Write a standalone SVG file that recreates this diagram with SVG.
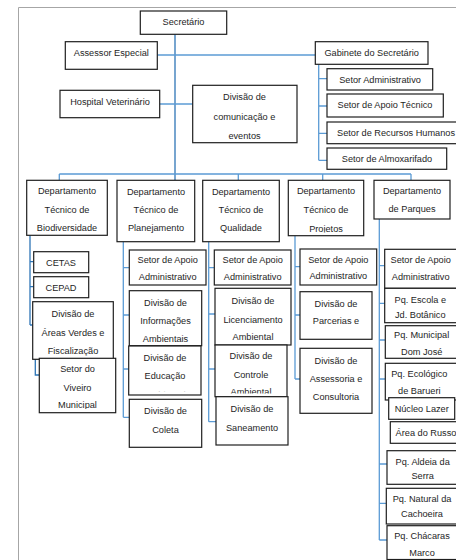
<svg xmlns="http://www.w3.org/2000/svg" width="456" height="560" viewBox="0 0 456 560">
<style>
.frame{stroke:#a6a6a6;stroke-width:1;fill:none}
.box{fill:#fff;stroke:#1e1e1e;stroke-width:1.2}
.c{fill:none;stroke:#5b9bd5;stroke-width:1.3}
.cd{fill:none;stroke:#2e75b6;stroke-width:1.3}
text{font-family:"Liberation Sans",Arial,sans-serif;font-size:9.2px;fill:#1e1e1e;text-anchor:middle}
</style>
<defs>
<clipPath id="clipProj"><rect x="288" y="180" width="76" height="52.6"/></clipPath>
<clipPath id="clipAV"><rect x="32" y="301" width="82" height="54.6"/></clipPath>
<clipPath id="clipViv"><rect x="39" y="358" width="77" height="51"/></clipPath>
<clipPath id="clipEdu"><rect x="128" y="346" width="73" height="45.2"/></clipPath>
<clipPath id="clipCtl"><rect x="215" y="345" width="72" height="48.6"/></clipPath>
</defs>
<rect width="456" height="560" fill="#fff"/>
<path class="frame" d="M18.5,7.5H456M18.5,7.5V560"/>
<g id="connectors">
<path class="cd" d="M175,34.3V180.3"/>
<path class="c" d="M157.3,55H315.3"/>
<path class="c" d="M159.7,104H192.7"/>
<path class="c" d="M59.3,174H411M59.3,174V180.3M238.3,174V180.3M322.7,174V180.3M411,174V180.3"/>
<path class="c" d="M318.7,64.3V160.3M318.7,78.7H327M318.7,106H327M318.7,133.3H327M318.7,160.3H327"/>
<path class="cd" d="M30,235.3V325M30,261.7H33.7M30,286.7H33.7M30,325H32.7"/>
<path class="cd" d="M35.3,357V375H39.3"/>
<path class="c" d="M123.3,241.7V417.3M123.3,267.7H129.3M123.3,315H129.3M123.3,369H128.7M123.3,417.3H129.3"/>
<path class="c" d="M208.7,241.7V421.7M208.7,267.7H214.3M208.7,314H215M208.7,369H215M208.7,421.7H216"/>
<path class="c" d="M295,235.7V379M295,266.7H300M295,315H300M295,379H300"/>
<path class="c" d="M379.3,219V540M379.3,265.7H384.7M379.3,303.3H384.7M379.3,340H385.3M379.3,379H385.3M379.3,464H387M379.3,503.3H386.3M379.3,540H387"/>
</g>
<g id="secretario"><rect class="box" x="140.3" y="11" width="86.4" height="23.3"/><text x="183.5" y="25.3">Secretário</text></g>
<g id="assessor"><rect class="box" x="65.3" y="41.7" width="92" height="27.6"/><text x="111.3" y="56">Assessor Especial</text></g>
<g id="hospital"><rect class="box" x="60" y="90.3" width="99.7" height="27.4"/><text x="110" y="105">Hospital Veterinário</text></g>
<g id="comunicacao"><rect class="box" x="192.7" y="85.3" width="104.3" height="57.4"/><text x="244.5" y="100">Divisão de</text><text x="244.5" y="120">comunicação e</text><text x="244.5" y="138.6">eventos</text></g>
<g id="gabinete"><rect class="box" x="315.3" y="41.7" width="112.7" height="22.6"/><text x="371.7" y="56">Gabinete do Secretário</text></g>
<g id="setor-adm"><rect class="box" x="327" y="68.7" width="105.7" height="21.3"/><text x="380" y="83.3">Setor Administrativo</text></g>
<g id="setor-apoio-tec"><rect class="box" x="327" y="94" width="116.3" height="23"/><text x="385" y="108.3">Setor de Apoio Técnico</text></g>
<g id="setor-rh"><rect class="box" x="327" y="122" width="132" height="21.7"/><text x="396" y="136">Setor de Recursos Humanos</text></g>
<g id="setor-almox"><rect class="box" x="327" y="148" width="119.7" height="21.3"/><text x="387" y="162">Setor de Almoxarifado</text></g>
<g id="dep-bio"><rect class="box" x="26.7" y="180.3" width="80.6" height="55"/><text x="67" y="194.3">Departamento</text><text x="67" y="212.6">Técnico de</text><text x="67" y="231">Biodiversidade</text></g>
<g id="dep-plan"><rect class="box" x="117" y="180.3" width="77.7" height="61.4"/><text x="156" y="195.3">Departamento</text><text x="156" y="212.6">Técnico de</text><text x="156" y="231.3">Planejamento</text></g>
<g id="dep-qual"><rect class="box" x="202.7" y="180.3" width="76.6" height="61.4"/><text x="241" y="195.3">Departamento</text><text x="241" y="212.6">Técnico de</text><text x="241" y="231.3">Qualidade</text></g>
<g id="dep-proj"><rect class="box" x="288.3" y="180.3" width="75.4" height="55.4"/><text x="326" y="194.3">Departamento</text><text x="326" y="212.6">Técnico de</text><text x="326" y="231.6" clip-path="url(#clipProj)">Projetos</text></g>
<g id="dep-parq"><rect class="box" x="374" y="180.3" width="76" height="38.7"/><text x="412" y="194.3">Departamento</text><text x="412" y="212.3">de Parques</text></g>
<g id="cetas"><rect class="box" x="33.7" y="251.7" width="55" height="21"/><text x="61" y="265.6">CETAS</text></g>
<g id="cepad"><rect class="box" x="33.7" y="276.7" width="55" height="21"/><text x="61" y="291">CEPAD</text></g>
<g id="areas-verdes"><rect class="box" x="32.7" y="301.7" width="80.6" height="57.6"/><g clip-path="url(#clipAV)"><text x="73" y="316.6">Divisão de</text><text x="73" y="335.6">Áreas Verdes e</text><text x="73" y="354">Fiscalização</text></g></g>
<g id="viveiro"><rect class="box" x="39.3" y="358.3" width="76.4" height="54.4"/><g clip-path="url(#clipViv)"><text x="77.5" y="372.3">Setor do</text><text x="77.5" y="390.6">Viveiro</text><text x="77.5" y="408.3">Municipal</text></g></g>
<g id="plan-apoio"><rect class="box" x="129.3" y="250" width="76.7" height="35"/><text x="167.7" y="263.3">Setor de Apoio</text><text x="167.7" y="280">Administrativo</text></g>
<g id="plan-info"><rect class="box" x="129.3" y="290.7" width="72.4" height="55"/><text x="165.5" y="305.6">Divisão de</text><text x="165.5" y="324.3">Informações</text><text x="165.5" y="342.3">Ambientais</text></g>
<g id="plan-edu"><rect class="box" x="128.7" y="346" width="72.3" height="49"/><g clip-path="url(#clipEdu)"><text x="165" y="360.6">Divisão de</text><text x="165" y="379.3">Educação</text><text x="165" y="398">Ambiental</text></g></g>
<g id="plan-coleta"><rect class="box" x="129.3" y="399.3" width="72.4" height="48"/><text x="165.5" y="414.3">Divisão de</text><text x="165.5" y="433.3">Coleta</text></g>
<g id="qual-apoio"><rect class="box" x="214.3" y="250" width="76.7" height="35"/><text x="252.7" y="263.3">Setor de Apoio</text><text x="252.7" y="280">Administrativo</text></g>
<g id="qual-lic"><rect class="box" x="215" y="288.3" width="76" height="56.7"/><text x="253" y="304.3">Divisão de</text><text x="253" y="323.3">Licenciamento</text><text x="253" y="340">Ambiental</text></g>
<g id="qual-ctl"><rect class="box" x="215" y="345" width="72" height="51.7"/><g clip-path="url(#clipCtl)"><text x="251" y="359">Divisão de</text><text x="251" y="378.3">Controle</text><text x="251" y="395">Ambiental</text></g></g>
<g id="qual-san"><rect class="box" x="216" y="396.7" width="72" height="48.3"/><text x="252" y="411.6">Divisão de</text><text x="252" y="430.6">Saneamento</text></g>
<g id="proj-apoio"><rect class="box" x="300" y="249" width="76.7" height="36"/><text x="338.3" y="262.6">Setor de Apoio</text><text x="338.3" y="279.3">Administrativo</text></g>
<g id="proj-parc"><rect class="box" x="300" y="291.7" width="72" height="47.6"/><text x="336" y="306.6">Divisão de</text><text x="336" y="324">Parcerias e</text></g>
<g id="proj-ass"><rect class="box" x="300" y="348.3" width="72" height="65"/><text x="336" y="364">Divisão de</text><text x="336" y="382.3">Assessoria e</text><text x="336" y="400">Consultoria</text></g>
<g id="parq-apoio"><rect class="box" x="384.7" y="249.3" width="75" height="39"/><text x="420.7" y="263.3">Setor de Apoio</text><text x="420.7" y="280">Administrativo</text></g>
<g id="pq-escola"><rect class="box" x="384.7" y="288.3" width="75" height="34.4"/><text x="420.3" y="302.6">Pq. Escola e</text><text x="420.3" y="318.3">Jd. Botânico</text></g>
<g id="pq-municipal"><rect class="box" x="385.3" y="325.7" width="75" height="32.6"/><text x="421.7" y="338.3">Pq. Municipal</text><text x="421.7" y="355">Dom José</text></g>
<g id="pq-ecologico"><rect class="box" x="385.3" y="363.3" width="75" height="36.7"/><text x="419.3" y="377.3">Pq. Ecológico</text><text x="419.3" y="394">de Barueri</text></g>
<g id="nucleo-lazer"><rect class="box" x="388.7" y="397.7" width="66" height="21.6"/><text x="421.7" y="412.3">Núcleo Lazer</text></g>
<g id="area-russo"><rect class="box" x="390.3" y="421.7" width="70" height="21.6"/><text x="426" y="435.6">Área do Russo</text></g>
<g id="pq-aldeia"><rect class="box" x="387" y="450.7" width="75" height="33.6"/><text x="422.7" y="465">Pq. Aldeia da</text><text x="422.7" y="479.3">Serra</text></g>
<g id="pq-natural"><rect class="box" x="386.3" y="488.3" width="75" height="35.7"/><text x="422" y="502.3">Pq. Natural da</text><text x="422" y="517.3">Cachoeira</text></g>
<g id="pq-chacaras"><rect class="box" x="387" y="525.7" width="75" height="33.8"/><text x="422" y="539">Pq. Chácaras</text><text x="422" y="555.6">Marco</text></g>
</svg>
